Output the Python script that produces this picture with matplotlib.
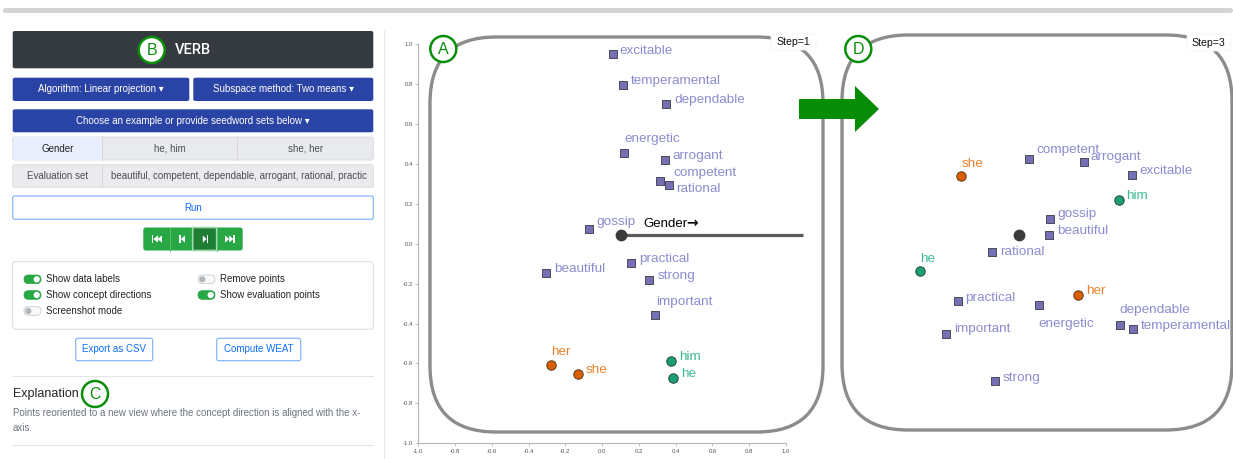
import matplotlib
matplotlib.use('Agg')
import matplotlib.pyplot as plt
from matplotlib.patches import FancyBboxPatch, Rectangle, Circle, Polygon

plt.rcParams['font.family'] = ['Liberation Sans', 'DejaVu Sans']
plt.rcParams['axes.unicode_minus'] = False

# ---------------- data ----------------
eval_words = ['excitable', 'temperamental', 'dependable', 'energetic', 'arrogant',
              'competent', 'rational', 'gossip', 'practical', 'beautiful',
              'strong', 'important']
# Step = 1 (panel A)
step1_x = [0.057, 0.113, 0.349, 0.117, 0.340, 0.314, 0.365, -0.070, 0.158, -0.307, 0.256, 0.285]
step1_y = [0.948, 0.794, 0.699, 0.452, 0.420, 0.313, 0.292, 0.072, -0.096, -0.146, -0.181, -0.359]
female_words = ['she', 'her']
male_words = ['he', 'him']
step1_female_x = [-0.133, -0.278]
step1_female_y = [-0.653, -0.609]
step1_male_x = [0.387, 0.374]
step1_male_y = [-0.671, -0.589]
step1_origin = [0.102, 0.043]
step1_dir_end = [1.095, 0.043]
concept_name = 'Gender'
concept_arrow = '\u2192'

# Step = 3 (panel D)
step3_x = [0.640, 0.647, 0.576, 0.136, 0.379, 0.083, -0.118, 0.194, -0.306, 0.192, -0.102, -0.368]
step3_y = [0.342, -0.426, -0.409, -0.309, 0.409, 0.424, -0.041, 0.123, -0.287, 0.042, -0.687, -0.453]
step3_female_x = [-0.290, 0.348]
step3_female_y = [0.339, -0.257]
step3_male_x = [-0.513, 0.571]
step3_male_y = [-0.136, 0.217]
step3_origin = [0.027, 0.042]

ticks = [-1.0, -0.8, -0.6, -0.4, -0.2, 0.0, 0.2, 0.4, 0.6, 0.8, 1.0]
tick_labels = ['-1.0', '-0.8', '-0.6', '-0.4', '-0.2', '0.0', '0.2', '0.4', '0.6', '0.8', '1.0']

# ---------------- label offsets (pixels, up positive) ----------------
off1 = {'excitable': (7, 4), 'temperamental': (8, 5), 'dependable': (8, 5),
        'energetic': (1, 15), 'arrogant': (8, 5), 'competent': (13, 9),
        'rational': (7, -3), 'gossip': (7, 8), 'practical': (8, 5),
        'beautiful': (8, 5), 'strong': (8, 5), 'important': (2, 14),
        'she': (8, 5), 'her': (0, 14), 'he': (8, 5), 'him': (8, 5)}
off3 = {'competent': (7, 10), 'arrogant': (7, 6), 'excitable': (8, 5),
        'she': (1, 13), 'him': (7, 5), 'gossip': (8, 6), 'beautiful': (8, 5),
        'rational': (8, 1), 'he': (1, 13), 'her': (8, 5), 'practical': (8, 4),
        'energetic': (0, -18), 'dependable': (0, 16), 'temperamental': (8, 4),
        'important': (8, 6), 'strong': (8, 4)}

W, H = 1233, 459
fig = plt.figure(figsize=(W / 100, H / 100), dpi=100)
bg = fig.add_axes([0, 0, 1, 1], zorder=0)
bg.set_xlim(0, W)
bg.set_ylim(H, 0)
bg.axis('off')

BLUE = '#2a44a6'
GREEN = '#28a745'
MARK = '#0a8f0a'


def box(x0, y0, x1, y1, fc, ec='none', lw=0.0, r=2.5, z=1):
    p = FancyBboxPatch((x0, y0), x1 - x0, y1 - y0,
                       boxstyle=f'round,pad=0,rounding_size={r}',
                       fc=fc, ec=ec, lw=lw, zorder=z)
    bg.add_patch(p)
    return p


def txt(x, y, s, size=7, color='#212529', ha='center', va='center', **kw):
    bg.text(x, y, s, fontsize=size, color=color, ha=ha, va=va, **kw)


def marker(cx, cy, letter, r=13):
    bg.add_patch(Circle((cx, cy), r, fc='white', ec=MARK, lw=1.8, zorder=6))
    txt(cx, cy + 0.5, letter, size=11.5, color=MARK, zorder=7)


# top bar and separator
box(3, 8, 1233, 13, '#d4d4d4', r=2.5)
bg.plot([383.5, 383.5], [30, 459], color='#e8e8e8', lw=0.8)

# header
box(12.7, 31, 373.3, 68.3, '#343a40', r=2)
bg.text(175, 50.5, 'VERB', fontsize=10.5, color='white', ha='left', va='center',
        family=['Roboto', 'Liberation Sans'], weight='medium')
marker(151.7, 50, 'B')

# dropdown buttons
box(12.7, 77.7, 189.3, 101, BLUE, r=2)
txt(101, 89.5, 'Algorithm: Linear projection \u25be', color='white')
box(193.3, 77.7, 373.3, 101, BLUE, r=2)
txt(283.3, 89.5, 'Subspace method: Two means \u25be', color='white')
box(12.7, 109.3, 373.3, 132.3, BLUE, r=2)
txt(193, 121, 'Choose an example or provide seedword sets below \u25be', color='white')

# seed rows
box(12.7, 137, 373.3, 160, '#e9eaee', ec='#d8d8dc', lw=0.6, r=2)
box(12.7, 137, 102.3, 160, '#e8eefb', r=2, z=1.1)
bg.plot([102.3, 102.3], [137, 160], color='#d3d3d8', lw=0.6, zorder=1.2)
bg.plot([237.3, 237.3], [137, 160], color='#d3d3d8', lw=0.6, zorder=1.2)
txt(57.5, 148.5, 'Gender', color='#212529', zorder=2)
txt(170, 148.5, 'he, him', color='#495057', zorder=2)
txt(305.3, 148.5, 'she, her', color='#495057', zorder=2)

box(12.7, 164.7, 373.3, 187.3, '#ebebee', ec='#d8d8dc', lw=0.6, r=2)
bg.plot([102.3, 102.3], [164.7, 187.3], color='#d3d3d8', lw=0.6, zorder=1.2)
txt(57.5, 176, 'Evaluation set', color='#495057', zorder=2)
txt(110.7, 176, 'beautiful, competent, dependable, arrogant, rational, practic',
    color='#495057', ha='left', zorder=2)

# run
box(12.7, 196, 373.3, 219.3, 'white', ec='#86b7fe', lw=0.9, r=2)
txt(193, 207.7, 'Run', color='#0d6efd')

# media buttons
box(143.3, 227.5, 242.7, 250.5, GREEN, r=2.5)
box(192.7, 227.5, 216.7, 250.5, '#1e7e34', ec='#9fd8ab', lw=1.2, r=0.5, z=1.2)
bg.plot([169.7, 169.7], [227.5, 250.5], color='#5cbf73', lw=0.7, zorder=1.3)
bg.plot([217.0, 217.0], [227.5, 250.5], color='#5cbf73', lw=0.7, zorder=1.3)
icy = 239
ih = 3.6
ic = 'white'


def tri(xa, xb):
    bg.add_patch(Polygon([(xa, icy - ih), (xa, icy + ih), (xb, icy)], closed=True,
                         fc=ic, ec='none', zorder=3))


def bar(x):
    bg.add_patch(Rectangle((x, icy - ih), 1.6, 2 * ih, fc=ic, ec='none', zorder=3))


bar(151.7); tri(158, 153.3); tri(162, 157.3)
bar(179.3); tri(185, 180.9)
tri(202.8, 206.6); bar(206.6)
tri(225, 229.2); tri(229.2, 233.2); bar(233.2)

# toggle panel
box(12.7, 261.7, 373.3, 329.3, 'white', ec='#dcdcdc', lw=0.7, r=3)


def toggle(x, y, on):
    if on:
        box(x, y - 4.3, x + 17, y + 4.3, GREEN, ec=GREEN, lw=0.5, r=4.3, z=2)
        bg.add_patch(Circle((x + 12.7, y), 3.1, fc='white', ec='none', zorder=3))
    else:
        box(x, y - 4.3, x + 17, y + 4.3, '#f8f9fa', ec='#c8cbcf', lw=0.6, r=4.3, z=2)
        bg.add_patch(Circle((x + 4.3, y), 3.1, fc='#b0b5ba', ec='none', zorder=3))


toggle(24, 279.3, True)
txt(46, 279.3, 'Show data labels', ha='left')
toggle(24, 295, True)
txt(46, 295, 'Show concept directions', ha='left')
toggle(24, 311, False)
txt(46, 311, 'Screenshot mode', ha='left')
toggle(198, 279.3, False)
txt(220, 279.3, 'Remove points', ha='left')
toggle(198, 295, True)
txt(220, 295, 'Show evaluation points', ha='left')

# export buttons
box(75.7, 338.3, 152.7, 360.7, 'white', ec='#86b7fe', lw=0.9, r=2)
txt(114.2, 349.5, 'Export as CSV', color='#0d6efd')
box(216.7, 338.3, 300.7, 360.7, 'white', ec='#86b7fe', lw=0.9, r=2)
txt(258.7, 349.5, 'Compute WEAT', color='#0d6efd')

bg.plot([12.7, 373.3], [375.7, 375.7], color='#e3e3e3', lw=0.8)
txt(12.7, 393.5, 'Explanation', size=9, ha='left', color='#212529')
marker(95, 394, 'C')
txt(12.7, 412.7, 'Points reoriented to a new view where the concept direction is aligned with the x-',
    size=7, ha='left', color='#6c757d')
txt(12.7, 428.3, 'axis.', size=7, ha='left', color='#6c757d')
bg.plot([12.7, 373.3], [445, 445], color='#e3e3e3', lw=0.8)

# plot frames
box(430, 37, 823, 432, 'none', ec='#8c8c8c', lw=2.4, r=66, z=1)
box(842, 35, 1232, 430, 'none', ec='#8c8c8c', lw=2.4, r=66, z=1)
box(771, 34, 816, 50, 'white', ec='#f4f4f4', lw=0.5, r=1, z=2)
txt(793, 42, 'Step=1', size=7.6, color='#111', zorder=3)
box(1187, 34, 1231, 51, 'white', ec='#f4f4f4', lw=0.5, r=1, z=2)
txt(1208.7, 42.7, 'Step=3', size=7.6, color='#111', zorder=3)
marker(443.3, 49, 'A')
marker(858.3, 49, 'D')

# green arrow
bg.add_patch(Polygon([(799, 99), (855, 99), (855, 86), (879, 109), (855, 132), (855, 119), (799, 119)],
                     closed=True, fc='#078c07', ec='none', zorder=5))

# ---------------- scatter axes ----------------
left_a = 418.3 / W
wid = (786 - 418.3) / W
bot = (H - 443.3) / H
hei = (443.3 - 44) / H
axA = fig.add_axes([left_a, bot, wid, hei], zorder=2)
axD = fig.add_axes([830 / W, bot, wid, hei], zorder=2)

SQ_FC = '#7570b3'
SQ_LBL = '#8d8bd0'
OR_FC = '#d95f02'
OR_LBL = '#e8822c'
GR_FC = '#1b9e77'
GR_LBL = '#3dbb8d'
LBL_SIZE = 9.7

for ax in (axA, axD):
    ax.set_xlim(-1, 1)
    ax.set_ylim(-1, 1)
    ax.patch.set_alpha(0)


def draw(ax, xs, ys, fx, fy, mx, my, origin, offs):
    ax.scatter(xs, ys, marker='s', s=36, c=SQ_FC, edgecolors='#4a4a5a', linewidths=0.7, zorder=4)
    ax.scatter(fx, fy, marker='o', s=46, c=OR_FC, edgecolors='#5a3a20', linewidths=0.7, zorder=4)
    ax.scatter(mx, my, marker='o', s=46, c=GR_FC, edgecolors='#1f4a3a', linewidths=0.7, zorder=4)
    ax.scatter([origin[0]], [origin[1]], marker='o', s=56, c='#3b3b3b', zorder=5)
    groups = [(eval_words, xs, ys, SQ_LBL), (female_words, fx, fy, OR_LBL), (male_words, mx, my, GR_LBL)]
    for words, gx, gy, col in groups:
        for w, x, y in zip(words, gx, gy):
            dx, dy = offs[w]
            ax.annotate(w, (x, y), xytext=(dx, dy - 1), textcoords='offset pixels',
                        ha='left', va='center', fontsize=LBL_SIZE, color=col, zorder=6,
                        annotation_clip=False)


draw(axA, step1_x, step1_y, step1_female_x, step1_female_y, step1_male_x, step1_male_y, step1_origin, off1)
axA.plot([step1_origin[0], step1_dir_end[0]], [step1_origin[1], step1_dir_end[1]],
         color='#5a5a5a', lw=2.3, zorder=3, clip_on=False, solid_capstyle='butt')
axA.annotate(concept_name, (step1_origin[0], step1_origin[1]), xytext=(22, 11),
             textcoords='offset pixels', ha='left', va='center', fontsize=9.5, color='black')
axA.annotate(concept_arrow, (step1_origin[0], step1_origin[1]), xytext=(65.5, 12),
             textcoords='offset pixels', ha='left', va='center', fontsize=10,
             color='black', family=['DejaVu Sans'], weight='bold')

axA.set_xticks(ticks)
axA.set_xticklabels(tick_labels)
axA.set_yticks(ticks)
axA.set_yticklabels(tick_labels)
for s in ('top', 'right'):
    axA.spines[s].set_visible(False)
for s in ('left', 'bottom'):
    axA.spines[s].set_color('#b5b5b5')
    axA.spines[s].set_linewidth(0.8)
axA.tick_params(axis='both', length=2.5, width=0.6, color='#b5b5b5', labelsize=4.3,
                labelcolor='#555555', pad=1.5)

draw(axD, step3_x, step3_y, step3_female_x, step3_female_y, step3_male_x, step3_male_y, step3_origin, off3)
axD.axis('off')

fig.savefig('out.png', dpi=100)
